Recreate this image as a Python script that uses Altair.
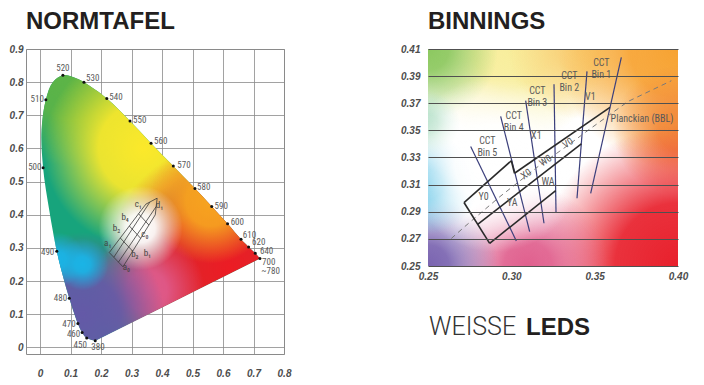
import altair as alt
import pandas as pd

# ---------------- NORMTAFEL (CIE 1931 chromaticity) ----------------
locus_nm = [380, 450, 460, 470, 480, 485, 490, 495, 500, 505, 510, 515, 520, 525,
            530, 540, 550, 560, 570, 580, 590, 600, 610, 620, 640, 700]
locus_x = [0.181, 0.153, 0.138, 0.124, 0.096, 0.076, 0.055, 0.030, 0.010, 0.005, 0.019, 0.042, 0.075, 0.110,
           0.144, 0.219, 0.295, 0.364, 0.437, 0.508, 0.563, 0.615, 0.659, 0.684, 0.706, 0.721]
locus_y = [0.020, 0.028, 0.045, 0.072, 0.148, 0.212, 0.290, 0.415, 0.542, 0.655, 0.747, 0.800, 0.821, 0.815,
           0.800, 0.751, 0.683, 0.616, 0.547, 0.479, 0.425, 0.373, 0.326, 0.303, 0.284, 0.268]
marked_nm = [380, 450, 460, 470, 480, 490, 500, 510, 520, 530, 540, 550, 560, 570, 580,
             590, 600, 610, 620, 640, 700]

wl_text = ["520", "530", "540", "550", "560", "570", "580", "590", "600", "610", "620", "640",
           "700", "~780", "510", "500", "490", "480", "470", "460", "450", "380"]
wl_lx = [0.075, 0.173, 0.249, 0.327, 0.396, 0.472, 0.537, 0.594, 0.647, 0.687, 0.717, 0.743,
         0.750, 0.756, -0.009, -0.017, 0.025, 0.067, 0.095, 0.110, 0.132, 0.190]
wl_ly = [0.843, 0.813, 0.756, 0.686, 0.622, 0.551, 0.484, 0.427, 0.377, 0.339, 0.318, 0.290,
         0.258, 0.229, 0.748, 0.544, 0.289, 0.148, 0.072, 0.040, 0.008, 0.002]

fig_x0 = [0.227, 0.347, 0.384, 0.378, 0.272, 0.242, 0.257, 0.263, 0.293, 0.323]
fig_y0 = [0.286, 0.432, 0.450, 0.400, 0.243, 0.272, 0.257, 0.330, 0.366, 0.403]
fig_x1 = [0.347, 0.384, 0.378, 0.272, 0.227, 0.360, 0.381, 0.304, 0.330, 0.357]
fig_y1 = [0.432, 0.450, 0.400, 0.243, 0.286, 0.438, 0.425, 0.290, 0.329, 0.369]
fig_text = ["c\u2081", "d\u2081", "b\u2084", "b\u2083", "a\u2081", "c\u2080", "b\u2082", "b\u2081", "a\u2080"]
fig_lx = [0.322, 0.392, 0.279, 0.251, 0.222, 0.344, 0.311, 0.352, 0.283]
fig_ly = [0.433, 0.428, 0.392, 0.359, 0.315, 0.342, 0.281, 0.284, 0.243]

x_ticks_l = [0, 0.1, 0.2, 0.3, 0.4, 0.5, 0.6, 0.7, 0.8]
y_ticks_l = [0, 0.1, 0.2, 0.3, 0.4, 0.5, 0.6, 0.7, 0.8, 0.9]

# ---------------- BINNINGS ----------------
x_ticks_r = [0.25, 0.30, 0.35, 0.40]
y_ticks_r = [0.25, 0.27, 0.29, 0.31, 0.33, 0.35, 0.37, 0.39, 0.41]

cct_x0 = [0.2756, 0.2936, 0.3086, 0.3256, 0.3454, 0.3660]
cct_y0 = [0.3381, 0.3603, 0.3719, 0.3840, 0.3935, 0.4038]
cct_x1 = [0.3030, 0.3110, 0.3196, 0.3268, 0.3394, 0.3476]
cct_y1 = [0.2685, 0.2753, 0.2815, 0.2896, 0.3000, 0.3036]

edge_x0 = [0.2716, 0.3000, 0.3019, 0.2716, 0.2798, 0.2870]
edge_y0 = [0.2968, 0.3276, 0.3184, 0.2968, 0.2807, 0.2667]
edge_x1 = [0.3000, 0.3019, 0.3592, 0.2870, 0.3420, 0.3266]
edge_y1 = [0.3276, 0.3184, 0.3669, 0.2667, 0.3400, 0.3056]

planck_x = [0.264, 0.272, 0.293, 0.316, 0.334, 0.346, 0.370, 0.396]
planck_y = [0.2703, 0.279, 0.301, 0.3233, 0.339, 0.350, 0.3713, 0.3866]

bin_text = ["Y0", "YA", "WA", "X1", "V1", "Planckian (BBL)"]
bin_x = [0.2834, 0.3006, 0.3220, 0.3150, 0.3474, 0.3784]
bin_y = [0.3012, 0.2962, 0.3118, 0.3462, 0.3743, 0.3586]
tilt_text = ["X0", "W0", "V0"]
tilt_x = [0.3090, 0.3206, 0.3340]
tilt_y = [0.3177, 0.3276, 0.3405]
cct_text = ["CCT\nBin 5", "CCT\nBin 4", "CCT\nBin 3", "CCT\nBin 2", "CCT\nBin 1"]
cct_lx = [0.2856, 0.3014, 0.3156, 0.3348, 0.3540]
cct_ly = [0.3418, 0.3608, 0.3787, 0.3898, 0.3996]

# ---------------- styling helpers ----------------
NARROW = "Liberation Sans Narrow, Roboto Condensed, Liberation Sans, sans-serif"


def rgba(hexc, a):
    h = hexc.lstrip("#")
    return "rgba(%d,%d,%d,%.3f)" % (int(h[0:2], 16), int(h[2:4], 16), int(h[4:6], 16), a)


def radial(color, cx, cy, R, box, core=0.45):
    x0, x1, y0, y1, sx, sy = box
    w = (x1 - x0) * sx
    h = (y1 - y0) * sy
    S = max(w, h)
    u = ((cx - x0) * sx + (S - w) / 2) / S
    v = ((y1 - cy) * sy + (S - h) / 2) / S
    stops = [alt.GradientStop(offset=0.0, color=rgba(color, 1.0)),
             alt.GradientStop(offset=core, color=rgba(color, 0.92)),
             alt.GradientStop(offset=1.0, color=rgba(color, 0))]
    return alt.RadialGradient(gradient="radial", stops=stops, x1=u, y1=v, r1=0, x2=u, y2=v, r2=R / S)


# ---------------- left chart ----------------
LW, LH = 258, 305
L_XDOM = [-0.046, 0.8]
L_YDOM = [-0.02, 0.9]
lsx = LW / (L_XDOM[1] - L_XDOM[0])
lsy = LH / (L_YDOM[1] - L_YDOM[0])

lx = alt.X("x:Q", scale=alt.Scale(domain=L_XDOM, nice=False, zero=False),
           axis=alt.Axis(values=x_ticks_l, format=".1~f", title=None, grid=True, labelPadding=14))
ly = alt.Y("y:Q", scale=alt.Scale(domain=L_YDOM, nice=False, zero=False),
           axis=alt.Axis(values=y_ticks_l, format=".1~f", title=None, grid=True, labelPadding=3))

locus_df = pd.DataFrame({"i": list(range(len(locus_x))), "nm": locus_nm, "x": locus_x, "y": locus_y})
lbox = (min(locus_x), max(locus_x), min(locus_y), max(locus_y), lsx, lsy)

left_blobs = [
    ("#5db446", 0.11, 0.80, 85, 0.45),
    ("#fce92a", 0.34, 0.60, 100, 0.45),
    ("#ec1c24", 0.62, 0.24, 125, 0.5),
    ("#f7a41f", 0.56, 0.44, 62, 0.4),
    ("#e05a8c", 0.35, 0.17, 58, 0.35),
    ("#6459a7", 0.14, 0.10, 82, 0.45),
    ("#1ab4e6", 0.06, 0.265, 27, 0.3),
    ("#1ab4e6", 0.14, 0.25, 26, 0.3),
    ("#ffffff", 0.33, 0.36, 42, 0.35),
]


def locus_layer(fill):
    return alt.Chart(locus_df).mark_line(strokeOpacity=0, interpolate="catmull-rom").encode(
        x=lx, y=ly, order="i:Q", fill=alt.value(fill))


left_layers = [locus_layer("#17a47c")] + [locus_layer(radial(c, cx, cy, R, lbox, k))
                                          for c, cx, cy, R, k in left_blobs]

dots_df = locus_df[locus_df["nm"].isin(marked_nm)]
left_layers.append(alt.Chart(dots_df).mark_circle(size=9, color="#111111", opacity=1).encode(x=lx, y=ly))

wl_df = pd.DataFrame({"t": wl_text, "x": wl_lx, "y": wl_ly})
left_layers.append(alt.Chart(wl_df).mark_text(font=NARROW, fontSize=9, color="#5a5a5a").encode(
    x=lx, y=ly, text="t:N"))

fig_df = pd.DataFrame({"x": fig_x0, "y": fig_y0, "x2": fig_x1, "y2": fig_y1})
left_layers.append(alt.Chart(fig_df).mark_rule(color="#3a3a3a", strokeWidth=0.8).encode(
    x=lx, y=ly, x2="x2:Q", y2="y2:Q"))
figl_df = pd.DataFrame({"t": fig_text, "x": fig_lx, "y": fig_ly})
left_layers.append(alt.Chart(figl_df).mark_text(font=NARROW, fontSize=9, color="#444444").encode(
    x=lx, y=ly, text="t:N"))

left = alt.layer(*left_layers).properties(
    width=LW, height=LH,
    title=alt.TitleParams("NORMTAFEL", anchor="start", frame="group", fontSize=24, fontWeight="bold",
                          font="Liberation Sans", color="#231f20", baseline="alphabetic", offset=-9),
    view=alt.ViewBackground(stroke="#8a8a8a", strokeWidth=1))

# ---------------- right chart ----------------
RW, RH = 250, 217
R_XDOM = [min(x_ticks_r), max(x_ticks_r)]
R_YDOM = [min(y_ticks_r), max(y_ticks_r)]
rsx = RW / (R_XDOM[1] - R_XDOM[0])
rsy = RH / (R_YDOM[1] - R_YDOM[0])

rx = alt.X("x:Q", scale=alt.Scale(domain=R_XDOM, nice=False, zero=False),
           axis=alt.Axis(values=x_ticks_r, format=".2f", title=None, grid=False, labelPadding=5))
ry = alt.Y("y:Q", scale=alt.Scale(domain=R_YDOM, nice=False, zero=False),
           axis=alt.Axis(values=y_ticks_r, format=".2f", title=None, grid=True, labelPadding=8,
                         gridColor="#505050", gridWidth=1, zindex=1))

bg_df = pd.DataFrame({"x": [R_XDOM[0]], "x2": [R_XDOM[1]], "y": [R_YDOM[0]], "y2": [R_YDOM[1]]})
rbox = (R_XDOM[0], R_XDOM[1], R_YDOM[0], R_YDOM[1], rsx, rsy)

right_blobs = [
    ("#f8ee9c", 0.30, 0.41, 95, 0.4),
    ("#f9d27a", 0.34, 0.41, 70, 0.3),
    ("#8cc860", 0.25, 0.41, 70, 0.3),
    ("#f7a332", 0.40, 0.41, 120, 0.4),
    ("#f28a3a", 0.40, 0.35, 65, 0.3),
    ("#e8202c", 0.40, 0.25, 140, 0.45),
    ("#e0608e", 0.31, 0.25, 80, 0.3),
    ("#7a64b0", 0.25, 0.25, 70, 0.3),
    ("#6cc8e8", 0.25, 0.31, 50, 0.3),
    ("#b4e0c8", 0.25, 0.355, 32, 0.3),
    ("#ffffff", 0.29, 0.325, 88, 0.45),
]


def bg_layer(fill):
    return alt.Chart(bg_df).mark_rect(fill=fill).encode(x=rx, x2="x2:Q", y=ry, y2="y2:Q")


right_layers = [bg_layer("#ffffff")] + [bg_layer(radial(c, cx, cy, R, rbox, k))
                                        for c, cx, cy, R, k in right_blobs]

cct_df = pd.DataFrame({"x": cct_x0, "y": cct_y0, "x2": cct_x1, "y2": cct_y1})
right_layers.append(alt.Chart(cct_df).mark_rule(color="#3b3f7c", strokeWidth=1.2).encode(
    x=rx, y=ry, x2="x2:Q", y2="y2:Q"))

pl_df = pd.DataFrame({"i": list(range(len(planck_x))), "x": planck_x, "y": planck_y})
right_layers.append(alt.Chart(pl_df).mark_line(color="#7a7a7a", strokeWidth=1, strokeDash=[5, 4]).encode(
    x=rx, y=ry, order="i:Q"))

edge_df = pd.DataFrame({"x": edge_x0, "y": edge_y0, "x2": edge_x1, "y2": edge_y1})
right_layers.append(alt.Chart(edge_df).mark_rule(color="#2a2a2a", strokeWidth=1.6).encode(
    x=rx, y=ry, x2="x2:Q", y2="y2:Q"))

bin_df = pd.DataFrame({"t": bin_text, "x": bin_x, "y": bin_y})
right_layers.append(alt.Chart(bin_df).mark_text(font=NARROW, fontSize=10, color="#5a5a5a").encode(
    x=rx, y=ry, text="t:N"))
tilt_df = pd.DataFrame({"t": tilt_text, "x": tilt_x, "y": tilt_y})
right_layers.append(alt.Chart(tilt_df).mark_text(font=NARROW, fontSize=10, color="#5a5a5a", angle=325).encode(
    x=rx, y=ry, text="t:N"))
cct_l_df = pd.DataFrame({"t": cct_text, "x": cct_lx, "y": cct_ly})
right_layers.append(alt.Chart(cct_l_df).mark_text(font=NARROW, fontSize=10, color="#5a5a5a",
                                                    lineBreak="\n", lineHeight=12).encode(
    x=rx, y=ry, text="t:N"))

right_layers.append(alt.Chart(bg_df).mark_text(
    text="WEISSE", font="Roboto, Liberation Sans", fontWeight=300, fontSize=25, color="#333333",
    align="left", baseline="alphabetic").encode(x=alt.value(1), y=alt.value(286)))
right_layers.append(alt.Chart(bg_df).mark_text(
    text="LEDS", font="Liberation Sans", fontWeight="bold", fontSize=24, color="#231f20",
    align="left", baseline="alphabetic").encode(x=alt.value(98), y=alt.value(286)))

right = alt.layer(*right_layers).properties(
    width=RW, height=RH,
    title=alt.TitleParams("BINNINGS", anchor="start", frame="group", fontSize=24, fontWeight="bold",
                          font="Liberation Sans", color="#231f20", baseline="alphabetic", offset=-9),
    view=alt.ViewBackground(stroke="transparent"))

chart = alt.hconcat(left, right, spacing=144, bounds="flush").properties(
    padding={"left": 0, "top": 1, "right": 0, "bottom": 0}
).configure_axis(
    labelFont="Liberation Sans", labelFontStyle="italic", labelFontWeight="bold",
    labelColor="#4d4d4d", labelFontSize=10, ticks=False, domain=False, labelFlush=False,
    gridColor="#8a8a8a", gridWidth=0.8
)

chart.save("out.html", embed_options={"renderer": "svg", "actions": False})
